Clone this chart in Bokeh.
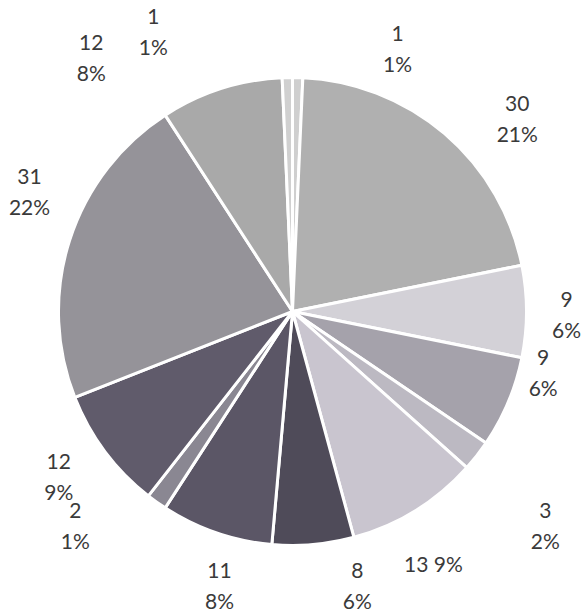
import math
from bokeh.plotting import figure
from bokeh.models import Range1d, ColumnDataSource
from bokeh.core.properties import value
from bokeh.embed import file_html
from bokeh.resources import INLINE

# ---- data (clockwise from 12 o'clock) ----
values = [1, 30, 9, 9, 3, 13, 8, 11, 2, 12, 31, 12, 1]
pct_labels = ["1%", "21%", "6%", "6%", "2%", "9%", "6%", "8%", "1%", "9%", "22%", "8%", "1%"]

# ---- styles / layout ----
colors = ["#cfcfcf", "#b0b0b0", "#d3d1d7", "#a5a2ab", "#bcb9c2", "#c9c5cf",
          "#4f4b59", "#5b5666", "#8a8792", "#605b6b", "#959399", "#a9a9a9", "#d0d0d0"]
label_angle = [21.8, 49.4, 90.7, 103.7, 130.2, 150.8, 166.7, 194.9, 225.4, 234.8, 294.5, 321.6, 333.6]
label_radius = [283, 296, 274, 258, 331, 289, 282, 284, 305, 286, 289, 324, 313]
single_line = [False, False, False, False, False, True, False, False, False, False, False, False, False]
R = 234
FONT = "Lato"
TXT = "#3a3a3a"

total = float(sum(values))
starts, ends = [], []
acc = 0.0
for v in values:
    a0 = acc / total * 2 * math.pi
    acc += v
    a1 = acc / total * 2 * math.pi
    starts.append(math.pi / 2 - a0)
    ends.append(math.pi / 2 - a1)

src = ColumnDataSource(dict(start=starts, end=ends, color=colors))

p = figure(width=586, height=612, x_range=Range1d(-292, 294), y_range=Range1d(-301, 311),
           output_backend="svg", toolbar_location=None, min_border=0)
p.axis.visible = False
p.grid.visible = False
p.outline_line_color = None
p.background_fill_color = "white"
p.border_fill_color = "white"

p.wedge(x=0, y=0, radius=R, start_angle="start", end_angle="end", direction="clock",
        fill_color="color", line_color="white", line_width=3, source=src)

top_x, top_y, top_t = [], [], []
bot_x, bot_y, bot_t = [], [], []
one_x, one_y, one_t = [], [], []
for v, pl, ang, r, s in zip(values, pct_labels, label_angle, label_radius, single_line):
    th = math.radians(ang)
    x = r * math.sin(th)
    y = r * math.cos(th)
    if s:
        one_x.append(x); one_y.append(y); one_t.append(f"{v} {pl}")
    else:
        top_x.append(x); top_y.append(y); top_t.append(str(v))
        bot_x.append(x); bot_y.append(y); bot_t.append(pl)

common = dict(text_font=value(FONT), text_font_size="21px", text_color=TXT,
              text_align="center", text_baseline="middle")
p.text(x=top_x, y=top_y, text=top_t, y_offset=-15, **common)
p.text(x=bot_x, y=bot_y, text=bot_t, y_offset=15, **common)
p.text(x=one_x, y=one_y, text=one_t, **common)

open("out.html", "w").write(file_html(p, INLINE))
